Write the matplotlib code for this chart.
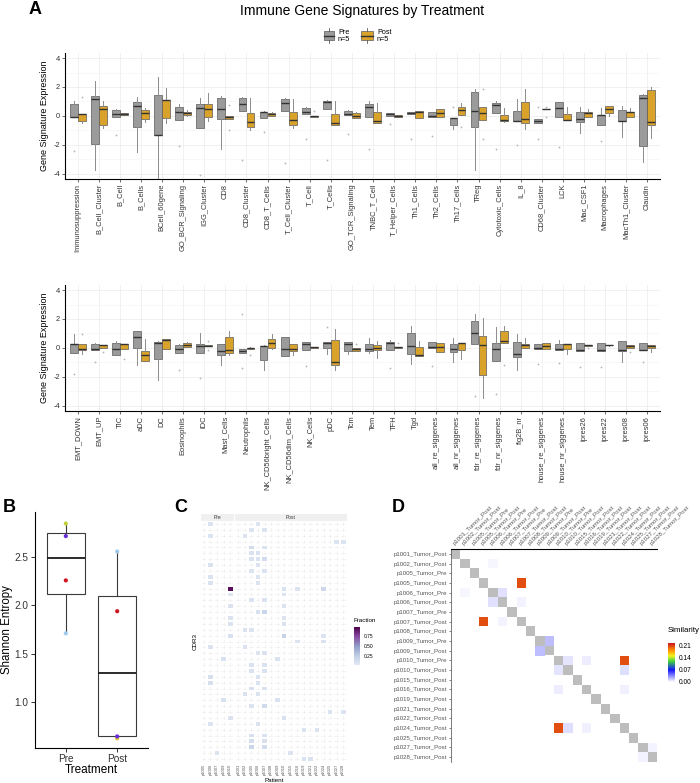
import numpy as np
import matplotlib
matplotlib.use('Agg')
import matplotlib.pyplot as plt
from matplotlib.colors import LinearSegmentedColormap, Normalize
from matplotlib.cm import ScalarMappable
from matplotlib.patches import Rectangle

plt.rcParams['font.family'] = ['Liberation Sans', 'DejaVu Sans']
plt.rcParams['axes.unicode_minus'] = False

# ---------- DATA: panel A (lo whisker, q1, median, q3, hi whisker) ----------
top_names = ['Immunosuppression', 'B_Cell_Cluster', 'B_Cell', 'B_Cells', 'BCell_60gene',
             'GO_BCR_Signaling', 'IGG_Cluster', 'CD8', 'CD8_Cluster', 'CD8_T_Cells',
             'T_Cell_Cluster', 'T_Cell', 'T_Cells', 'GO_TCR_Signaling', 'TNBC_T_Cell',
             'T_Helper_Cells', 'Th1_Cells', 'Th2_Cells', 'Th17_Cells', 'TReg',
             'Cytotoxic_Cells', 'IL_8', 'CD68_Cluster', 'LCK', 'Mac_CSF1', 'Macrophages',
             'MacTh1_Cluster', 'Claudin']
top_pre = [(-0.1, -0.1, -0.08, 0.83, 1.0), (-3.72, -1.93, 1.15, 1.38, 2.44), (-0.11, -0.11, 0.14, 0.41, 0.5),
           (-2.53, -0.74, 0.69, 0.97, 1.29), (-4.3, -1.33, -1.33, 1.45, 2.67), (-0.28, -0.28, 0.28, 0.64, 0.83),
           (-0.87, -0.87, 0.53, 0.8, 1.26), (-2.3, -0.23, 0.48, 1.26, 1.38), (0.37, 0.37, 0.8, 1.22, 1.29),
           (-0.14, -0.14, 0.28, 0.3, 0.32), (0.32, 0.32, 0.87, 1.17, 1.24), (0.11, 0.11, 0.25, 0.53, 0.64),
           (0.5, 0.5, 0.99, 1.06, 1.1), (0.07, 0.07, 0.11, 0.37, 0.4), (-0.1, -0.1, 0.64, 0.83, 1.06),
           (0.02, 0.02, 0.14, 0.2, 0.22), (0.11, 0.11, 0.2, 0.28, 0.3), (-0.05, -0.05, 0.0, 0.25, 0.27),
           (-0.92, -0.62, -0.14, -0.14, -0.14), (-3.77, -0.8, 0.37, 1.68, 1.84), (0.18, 0.18, 0.76, 0.92, 1.0),
           (-0.37, -0.37, -0.37, 0.37, 1.15), (-0.5, -0.5, -0.35, -0.25, -0.25), (-0.1, -0.1, 0.53, 0.94, 0.94),
           (-1.2, -0.44, -0.23, 0.28, 0.64), (-0.64, -0.64, 0.05, 0.05, 0.53), (-1.43, -0.37, -0.35, 0.41, 0.71),
           (-3.17, -2.07, 1.26, 1.43, 1.5)]
top_pre_out = [[-2.4], [], [-1.33], [], [], [-2.07], [-4.07], [], [-3.08], [-1.15], [-3.26], [-1.6], [-3.03],
               [-1.26], [-2.28], [-0.55], [-1.6], [-1.38], [0.6], [], [-2.28], [-2.0], [-1.59, 0.64], [-2.16],
               [], [-1.77], [], []]
top_post = [(-0.5, -0.35, 0.12, 0.14, 0.14), (-0.85, -0.64, 0.48, 0.69, 1.0), (0.05, 0.07, 0.14, 0.18, 0.2),
            (-0.4, -0.23, 0.23, 0.41, 0.57), (-0.5, -0.16, 1.1, 1.1, 1.9), (0.0, 0.07, 0.18, 0.3, 0.4),
            (-0.35, -0.1, 0.5, 0.8, 1.6), (-0.2, -0.2, -0.1, 0.0, 0.0), (-0.97, -0.74, -0.41, 0.23, 1.22),
            (0.0, 0.0, 0.11, 0.18, 0.25), (-0.85, -0.64, -0.32, 0.3, 1.17), (-0.07, -0.06, -0.03, 0.02, 0.02),
            (-0.66, -0.64, -0.5, 0.11, 1.0), (-0.16, -0.16, 0.02, 0.2, 0.3), (-0.46, -0.46, -0.39, 0.3, 0.87),
            (-0.1, -0.1, -0.02, 0.05, 0.05), (-0.14, -0.14, 0.28, 0.35, 0.35), (-0.1, -0.1, 0.2, 0.46, 0.5),
            (0.09, 0.09, 0.41, 0.64, 0.92), (-0.28, -0.28, 0.18, 0.6, 0.6), (-0.45, -0.39, -0.28, 0.07, 0.53),
            (-0.9, -0.5, -0.23, 0.99, 1.86), (0.45, 0.45, 0.48, 0.5, 0.5), (-0.3, -0.3, -0.28, 0.11, 0.64),
            (-0.05, -0.05, 0.23, 0.28, 0.5), (0.0, 0.18, 0.46, 0.69, 0.69), (-0.05, -0.05, 0.25, 0.3, 0.53),
            (-1.54, -0.62, -0.41, 1.8, 2.0)]
top_post_out = [[1.33], [], [], [], [], [], [], [0.75, -0.97], [], [], [], [0.37], [], [], [], [], [], [],
                [-0.78], [1.84, -1.59], [], [], [0.64, -0.05], [], [], [], [], []]

bot_names = ['EMT_DOWN', 'EMT_UP', 'TIC', 'aDC', 'DC', 'Eosinophils', 'iDC', 'Mast_Cells', 'Neutrophils',
             'NK_CD56bright_Cells', 'NK_CD56dim_Cells', 'NK_Cells', 'pDC', 'Tcm', 'Tem', 'TFH', 'Tgd',
             'all_re_siggenes', 'all_nr_siggenes', 'fdr_re_siggenes', 'fdr_nr_siggenes', 'fig2B_nr',
             'house_re_siggenes', 'house_nr_siggenes', 'ipres26', 'ipres22', 'ipres08', 'ipres06']
bot_pre = [(-0.39, -0.39, 0.25, 0.3, 0.99), (-0.18, -0.18, -0.05, 0.3, 0.35), (-0.51, -0.51, -0.05, 0.37, 0.48),
           (-1.2, 0.0, 0.76, 1.18, 1.18), (-2.24, -0.74, 0.37, 0.42, 0.45), (-0.35, -0.35, -0.05, 0.18, 0.25),
           (-0.35, -0.35, 0.14, 0.25, 1.0), (-1.16, -0.46, -0.21, 0.3, 0.3), (-0.35, -0.35, -0.23, -0.05, -0.05),
           (-1.55, -0.81, 0.12, 0.16, 0.2), (-0.58, -0.58, -0.09, 0.76, 0.76), (-0.16, -0.16, 0.3, 0.42, 0.42),
           (-0.44, 0.0, 0.37, 0.42, 0.42), (-0.44, -0.23, 0.3, 0.39, 0.39), (-0.35, -0.23, -0.05, 0.25, 0.65),
           (-0.16, -0.16, 0.35, 0.39, 0.53), (-1.13, -0.44, 0.16, 1.0, 1.5), (0.02, 0.02, 0.07, 0.42, 0.42),
           (-0.97, -0.28, -0.05, 0.3, 0.65), (0.3, 0.3, 1.04, 1.85, 2.31), (-0.92, -0.92, -0.05, 0.37, 1.41),
           (-1.5, -0.62, -0.44, 0.42, 0.95), (-0.07, -0.07, 0.0, 0.25, 0.25), (-0.12, -0.12, -0.09, 0.25, 0.53),
           (-0.23, -0.23, -0.12, 0.35, 0.35), (-0.23, -0.23, -0.16, 0.37, 0.37), (-0.97, -0.23, -0.16, 0.49, 0.49),
           (-0.16, -0.16, -0.16, 0.37, 0.37)]
bot_pre_out = [[-1.83], [-0.97], [], [], [], [-1.5], [-2.08], [], [2.34, -1.36], [], [], [-1.23], [1.46], [],
               [], [-1.39], [], [-1.23], [], [-3.35], [-3.17], [], [-1.09], [-1.02], [-1.32], [-1.32], [], [-1.0]]
bot_post = [(-0.44, -0.12, -0.05, 0.3, 0.3), (0.0, 0.0, 0.23, 0.23, 0.23), (-0.05, -0.05, 0.25, 0.25, 0.3),
            (-0.9, -0.9, -0.51, -0.21, 0.58), (-0.05, -0.05, 0.53, 0.58, 0.58), (0.07, 0.07, 0.18, 0.37, 0.4),
            (0.14, 0.14, 0.16, 0.18, 0.18), (-0.5, -0.35, -0.16, 0.76, 1.18), (-0.08, -0.06, -0.03, 0.0, 0.05),
            (-0.1, 0.0, 0.35, 0.58, 0.95), (-0.5, -0.23, -0.09, 0.3, 0.3), (0.0, 0.0, 0.07, 0.07, 0.07),
            (-1.5, -1.2, -0.97, 0.53, 1.3), (-0.2, -0.2, -0.09, -0.02, -0.02), (-0.67, -0.16, 0.0, 0.23, 0.46),
            (0.0, 0.0, 0.03, 0.07, 0.07), (-0.55, -0.55, -0.46, 0.09, 0.46), (-0.28, -0.28, 0.07, 0.35, 0.35),
            (-0.74, -0.16, 0.37, 0.37, 0.37), (-3.44, -1.85, 0.18, 0.83, 2.08), (0.35, 0.35, 0.46, 1.16, 1.5),
            (0.0, 0.0, 0.18, 0.3, 0.65), (-0.09, -0.09, 0.12, 0.37, 0.37), (-0.44, -0.05, 0.3, 0.3, 0.3),
            (0.14, 0.14, 0.18, 0.23, 0.23), (0.16, 0.17, 0.21, 0.23, 0.23), (0.02, 0.02, 0.16, 0.23, 0.23),
            (-0.28, 0.02, 0.14, 0.23, 0.23)]
bot_post_out = [[0.99], [-0.28], [-0.74], [], [], [], [0.45, -0.15], [], [-0.5], [], [], [], [], [0.25], [],
                [0.37], [], [], [], [], [-1.16], [], [], [], [0.02], [], [-0.28], []]

# ---------- DATA: panel B ----------
b_groups = ['Pre', 'Post']
b_pre_box = (1.71, 2.12, 2.49, 2.75, 2.85)
b_post_box = (0.64, 0.64, 1.30, 2.10, 2.56)
b_pre_pts = [2.85, 2.72, 2.26, 1.71]
b_pre_cols = ['#c2cf3a', '#6a2ad8', '#d0141e', '#9fcbec']
b_post_pts = [0.62, 2.56, 1.94, 0.64]
b_post_cols = ['#e0c43a', '#9fcbec', '#d0141e', '#6a2ad8']

# ---------- DATA: panel C (column, row, fraction) ----------
c_pre_patients = ['p1005', 'p1006', 'p1007', 'p1009', 'p1010']
c_post_patients = ['p1001', 'p1002', 'p1005', 'p1006', 'p1007', 'p1008', 'p1009', 'p1010', 'p1015',
                   'p1016', 'p1019', 'p1021', 'p1022', 'p1024', 'p1025', 'p1027', 'p1028']
c_n_rows = 41
c_pre_cells = [(1, 0, .06), (1, 2, .05), (1, 7, .06), (1, 9, .06), (1, 10, .06), (4, 11, .95), (4, 12, .04),
               (4, 14, .06), (4, 16, .06), (4, 17, .06), (4, 19, .07), (1, 21, .06), (3, 23, .07), (1, 26, .08),
               (1, 27, .08), (3, 30, .07), (4, 33, .06), (1, 34, .06), (2, 39, .06)]
c_post_cells = [(3, 0, .05), (2, 1, .05), (4, 1, .05), (1, 2, .05), (15, 3, .05), (16, 3, .05), (2, 4, .12),
                (4, 4, .06), (2, 5, .07), (3, 5, .07), (2, 6, .07), (3, 6, .07), (4, 6, .12), (3, 7, .06),
                (2, 8, .06), (4, 8, .06), (3, 9, .06), (3, 10, .05), (7, 11, .07), (9, 11, .06), (13, 11, .15),
                (7, 12, .06), (2, 13, .06), (4, 13, .06), (7, 14, .06), (3, 15, .08), (4, 15, .18), (7, 16, .06),
                (7, 17, .06), (1, 18, .06), (2, 18, .06), (7, 19, .2), (13, 19, .06), (9, 20, .06), (13, 20, .06),
                (1, 21, .06), (3, 22, .06), (4, 22, .06), (6, 23, .06), (2, 24, .07), (2, 25, .07), (4, 24, .07),
                (4, 25, .07), (3, 26, .07), (3, 27, .07), (2, 28, .08), (4, 28, .07), (1, 29, .06), (3, 29, .06),
                (6, 30, .07), (2, 31, .06), (4, 31, .14), (14, 32, .06), (16, 32, .06), (7, 33, .07), (3, 34, .06),
                (10, 35, .06), (12, 35, .06), (2, 36, .08), (4, 36, .07), (2, 37, .1), (4, 37, .08), (2, 38, .17),
                (4, 38, .12), (8, 39, .06), (10, 40, .07), (11, 40, .07)]

# ---------- DATA: panel D ----------
d_labels = ['p1001_Tumor_Post', 'p1002_Tumor_Post', 'p1005_Tumor_Pre', 'p1005_Tumor_Post', 'p1006_Tumor_Pre',
            'p1006_Tumor_Post', 'p1007_Tumor_Pre', 'p1007_Tumor_Post', 'p1008_Tumor_Post', 'p1009_Tumor_Pre',
            'p1009_Tumor_Post', 'p1010_Tumor_Pre', 'p1010_Tumor_Post', 'p1015_Tumor_Post', 'p1016_Tumor_Post',
            'p1019_Tumor_Post', 'p1021_Tumor_Post', 'p1022_Tumor_Post', 'p1024_Tumor_Post', 'p1025_Tumor_Post',
            'p1027_Tumor_Post', 'p1028_Tumor_Post']
d_pairs = [(3, 7, 0.205), (11, 18, 0.205), (9, 10, 0.02), (4, 5, 0.009), (1, 4, 0.003), (5, 7, 0.004),
           (11, 12, 0.008), (11, 14, 0.006), (12, 18, 0.01), (14, 18, 0.005), (20, 21, 0.004)]

# ---------- FIGURE ----------
W, H = 700, 783
fig = plt.figure(figsize=(W / 100, H / 100), dpi=100)


def px_axes(l, t, r, b):
    return fig.add_axes([l / W, 1 - b / H, (r - l) / W, (b - t) / H])


PRE_COL, POST_COL = '#9b9b9b', '#d9a22b'


def signature_panel(top, names, pre, pre_out, post, post_out):
    ax = px_axes(65, top, 660, top + 126)
    x = np.arange(len(names))
    for stats, outs, off, fc in ((pre, pre_out, -0.19, PRE_COL), (post, post_out, 0.19, POST_COL)):
        bx = [dict(whislo=s[0], q1=s[1], med=s[2], q3=s[3], whishi=s[4], fliers=o) for s, o in zip(stats, outs)]
        ax.bxp(bx, positions=x + off, widths=0.37, patch_artist=True, showcaps=False, manage_ticks=False,
               boxprops=dict(facecolor=fc, edgecolor='#5a5a5a', linewidth=0.5),
               whiskerprops=dict(color='#8c8c8c', linewidth=0.7),
               medianprops=dict(color='#333333', linewidth=1.0),
               flierprops=dict(marker='o', markersize=1.3, markerfacecolor='#b5b5b5', markeredgecolor='none'))
    ax.set_xlim(-0.6, len(names) - 0.4)
    ax.set_ylim(-4.37, 4.35)
    ax.set_yticks([-4, -2, 0, 2, 4])
    ax.set_yticks([-3, -1, 1, 3], minor=True)
    ax.set_xticks(x)
    ax.set_xticklabels(names, rotation=90, fontsize=5.4)
    ax.tick_params(axis='y', labelsize=5.4)
    ax.tick_params(which='major', length=2, width=0.5, pad=1.5, colors='#333333')
    ax.tick_params(which='minor', length=0)
    ax.grid(True, which='major', color='#ebebeb', linewidth=0.5)
    ax.grid(True, which='minor', axis='y', color='#f3f3f3', linewidth=0.4)
    ax.set_axisbelow(True)
    for s in ('top', 'right'):
        ax.spines[s].set_visible(False)
    for s in ('left', 'bottom'):
        ax.spines[s].set_linewidth(0.8)
    ax.set_ylabel('Gene Signature Expression', fontsize=6.5, labelpad=3)
    return ax


signature_panel(53, top_names, top_pre, top_pre_out, top_post, top_post_out)
signature_panel(285, bot_names, bot_pre, bot_pre_out, bot_post, bot_post_out)

fig.text(362 / W, 1 - 11 / H, 'Immune Gene Signatures by Treatment', ha='center', va='center', fontsize=10)

# legend
lax = px_axes(320, 26, 400, 48)
lax.set_xlim(320, 400)
lax.set_ylim(48, 26)
lax.axis('off')
for x0, x1, fc, lab in ((324, 334, PRE_COL, 'Pre'), (361, 373, POST_COL, 'Post')):
    xc = (x0 + x1) / 2
    lax.plot([xc, xc], [28.5, 31.5], color='#5a5a5a', lw=0.6)
    lax.plot([xc, xc], [40.5, 43.5], color='#5a5a5a', lw=0.6)
    lax.add_patch(Rectangle((x0, 31.5), x1 - x0, 9, facecolor=fc, edgecolor='#5a5a5a', lw=0.5))
    lax.plot([x0, x1], [36, 36], color='#333333', lw=1.0)
    lax.text(x1 + 4, 32.5, lab, fontsize=5.2, va='center', ha='left')
    lax.text(x1 + 4, 39.5, 'n=5', fontsize=5.2, va='center', ha='left')

# ---------- PANEL B ----------
axB = px_axes(35, 512, 148, 748)
bstats = [dict(whislo=s[0], q1=s[1], med=s[2], q3=s[3], whishi=s[4], fliers=[]) for s in (b_pre_box, b_post_box)]
axB.bxp(bstats, positions=[1, 2], widths=0.75, patch_artist=True, showcaps=False, showfliers=False,
        manage_ticks=False,
        boxprops=dict(facecolor='white', edgecolor='#3a3a3a', linewidth=0.8),
        whiskerprops=dict(color='#3a3a3a', linewidth=0.8),
        medianprops=dict(color='#1a1a1a', linewidth=1.3))
axB.scatter(np.full(len(b_pre_pts), 1), b_pre_pts, c=b_pre_cols, s=9, zorder=3, linewidths=0)
axB.scatter(np.full(len(b_post_pts), 2), b_post_pts, c=b_post_cols, s=9, zorder=3, linewidths=0)
axB.set_xlim(0.4, 2.6)
axB.set_ylim(0.52, 2.97)
axB.set_xticks([1, 2])
axB.set_xticklabels(b_groups)
axB.set_yticks([1.0, 1.5, 2.0, 2.5])
axB.set_yticklabels(['1.0', '1.5', '2.0', '2.5'])
axB.tick_params(labelsize=7.2, length=3, width=0.7, pad=1.5, colors='#333333', labelcolor='#333333')
for s in ('top', 'right'):
    axB.spines[s].set_visible(False)
for s in ('left', 'bottom'):
    axB.spines[s].set_linewidth(0.8)
axB.set_xlabel('Treatment', fontsize=8.5, labelpad=0)
fig.text(7 / W, 1 - 630 / H, 'Shannon Entropy', rotation=90, fontsize=8.3, ha='center', va='center')

# ---------- PANEL C ----------
c_cmap = LinearSegmentedColormap.from_list('frac', ['#e3e9f4', '#bfcde4', '#8f9cc9', '#874aa0', '#4d004b'])
for l, r, pats, cells, strip in ((200.5, 233.5, c_pre_patients, c_pre_cells, 'Pre'),
                                 (235, 346.5, c_post_patients, c_post_cells, 'Post')):
    ax = px_axes(l, 521, r, 762)
    M = np.full((c_n_rows, len(pats)), np.nan)
    for c, rr, v in cells:
        M[rr, c] = v
    ax.pcolormesh(np.ma.masked_invalid(M), cmap=c_cmap, vmin=0, vmax=1, edgecolors='white', linewidth=0.3,
                  zorder=2)
    for i in range(c_n_rows):
        ax.axhline(i + 0.5, color='#ececec', lw=0.4, zorder=1)
    for j in range(len(pats)):
        ax.axvline(j + 0.5, color='#ececec', lw=0.4, zorder=1)
    ax.set_xlim(0, len(pats))
    ax.set_ylim(c_n_rows, 0)
    ax.set_xticks(np.arange(len(pats)) + 0.5)
    ax.set_xticklabels(pats, rotation=90, fontsize=3.0, color='#555555')
    ax.tick_params(length=0, pad=1.5)
    ax.set_yticks([])
    for s in ax.spines.values():
        s.set_visible(False)
    sax = px_axes(l, 514, r, 520.5)
    sax.set_facecolor('#f0f0f0')
    sax.set_xticks([])
    sax.set_yticks([])
    for s in sax.spines.values():
        s.set_visible(False)
    sax.text(0.5, 0.5, strip, fontsize=3.5, ha='center', va='center', color='#333333', transform=sax.transAxes)

fig.text(195 / W, 1 - 641 / H, 'CDR3', rotation=90, fontsize=4.5, ha='center', va='center')
fig.text(274 / W, 1 - 780 / H, 'Patient', fontsize=4.5, ha='center', va='center')
caxC = px_axes(354, 627, 360, 665)
cbC = fig.colorbar(ScalarMappable(norm=Normalize(0, 1), cmap=c_cmap), cax=caxC, ticks=[0.25, 0.5, 0.75])
cbC.outline.set_visible(False)
cbC.ax.set_yticklabels(['0.25', '0.50', '0.75'])
cbC.ax.tick_params(labelsize=3.5, length=1.2, width=0.4, color='white', pad=1.5)
fig.text(353 / W, 1 - 621 / H, 'Fraction', fontsize=4.5, ha='left', va='center')

# ---------- PANEL D ----------
d_cmap = LinearSegmentedColormap.from_list('sim', [(0, 'white'), (0.31, '#1414ff'), (0.53, '#3fd23f'),
                                                   (0.67, '#f2f21e'), (0.82, '#ff8c00'), (1.0, '#c8141e')])
n = len(d_labels)
S = np.zeros((n, n))
for i, j, v in d_pairs:
    S[i, j] = v
    S[j, i] = v
axD = px_axes(451, 549, 657, 762)
axD.pcolormesh(S, cmap=d_cmap, vmin=0, vmax=0.225)
for k in range(n):
    axD.add_patch(Rectangle((k, k), 1, 1, facecolor='#bdbdbd', edgecolor='none'))
axD.set_xlim(0, n)
axD.set_ylim(n, 0)
axD.xaxis.tick_top()
axD.set_xticks(np.arange(n) + 0.5)
axD.set_xticklabels(d_labels, rotation=45, ha='left', va='bottom', rotation_mode='anchor', fontsize=4.4,
                    color='#333333')
axD.set_yticks(np.arange(n) + 0.5)
axD.set_yticklabels(d_labels, fontsize=4.4, color='#333333')
axD.tick_params(length=1.5, width=0.5, pad=1.5, colors='#555555')
axD.tick_params(axis='x', length=0, pad=2)
for s in ('right', 'bottom'):
    axD.spines[s].set_visible(False)
axD.spines['left'].set_color('#666666')
axD.spines['left'].set_linewidth(0.6)
axD.spines['top'].set_linewidth(0.8)

caxD = px_axes(668, 643, 675, 682)
cbD = fig.colorbar(ScalarMappable(norm=Normalize(0, 0.225), cmap=d_cmap), cax=caxD, ticks=[0, 0.07, 0.14, 0.21])
cbD.outline.set_visible(False)
cbD.ax.set_yticklabels(['0.00', '0.07', '0.14', '0.21'])
cbD.ax.tick_params(labelsize=4.8, length=1.5, width=0.4, color='white', pad=1.5)
fig.text(668 / W, 1 - 630 / H, 'Similarity', fontsize=5.7, ha='left', va='center')

# ---------- PANEL LETTERS ----------
for lab, x, y in (('A', 29, 10), ('B', 3, 507), ('C', 174, 507), ('D', 392, 507)):
    fig.text(x / W, 1 - y / H, lab, fontsize=13, fontweight='bold', ha='left', va='center')

fig.savefig('out.png', dpi=100)
